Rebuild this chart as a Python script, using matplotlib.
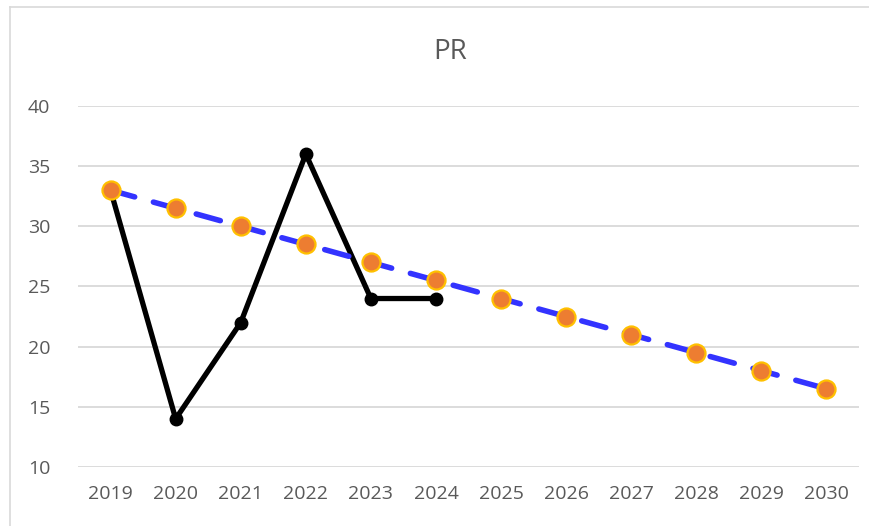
import matplotlib

matplotlib.use("Agg")
import matplotlib.pyplot as plt
from matplotlib.lines import Line2D

years = ["2019", "2020", "2021", "2022", "2023", "2024",
         "2025", "2026", "2027", "2028", "2029", "2030"]
actual = [33, 14, 22, 36, 24, 24]
trend = [33, 31.5, 30, 28.5, 27, 25.5, 24, 22.5, 21, 19.5, 18, 16.5]
yticks = [10, 15, 20, 25, 30, 35, 40]

TEXT = "#595959"
GRID = "#d9d9d9"

plt.rcParams["font.family"] = ["Open Sans", "DejaVu Sans"]

fig = plt.figure(figsize=(8.69, 5.26), dpi=100)
ax = fig.add_axes([0.0898, 0.1122, 0.8987, 0.6863])

x = list(range(len(years)))
ax.plot(x[:len(actual)], actual, color="black", linewidth=3.8,
        marker="o", markersize=9, zorder=3)
ax.plot(x, trend, color="#3333ff", linewidth=4, linestyle=(0, (4.5, 3.5)),
        dash_capstyle="round", zorder=4)
ax.plot(x, trend, linestyle="none", marker="o", markersize=13,
        markerfacecolor="#ED7D31", markeredgecolor="#FFC000",
        markeredgewidth=1.6, zorder=5)

ax.set_xlim(-0.5, len(years) - 0.5)
ax.set_ylim(10, 40)
ax.set_xticks(x)
ax.set_xticklabels(years)
ax.set_yticks(yticks)
ax.tick_params(axis="both", length=0, labelsize=14, colors=TEXT)
ax.tick_params(axis="x", pad=13)
ax.tick_params(axis="y", pad=20)
ax.grid(axis="y", color=GRID, linewidth=1.3)
ax.set_axisbelow(True)
for s in ax.spines.values():
    s.set_visible(False)

fig.text(0.518, 0.902, "PR", ha="center", va="center", fontsize=20, color=TEXT)

# chart border (cropped on the right and bottom)
fig.add_artist(Line2D([10 / 869, 10 / 869], [0, 1 - 7 / 526],
                      color=GRID, linewidth=1.2, transform=fig.transFigure))
fig.add_artist(Line2D([10 / 869, 1], [1 - 7 / 526, 1 - 7 / 526],
                      color=GRID, linewidth=1.2, transform=fig.transFigure))

fig.savefig("out.png", dpi=100, facecolor="white")
plt.close(fig)
